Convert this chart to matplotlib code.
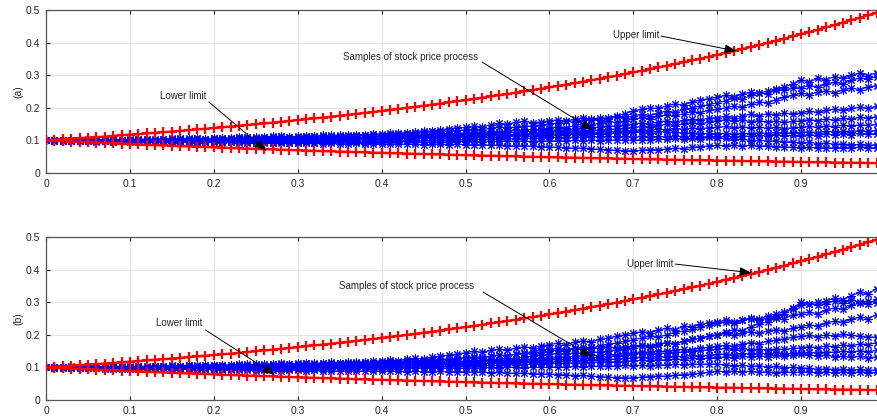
import numpy as np
import matplotlib
matplotlib.use("Agg")
import matplotlib.pyplot as plt

plt.rcParams['font.family'] = ['Liberation Sans', 'DejaVu Sans']

# all values are in thousandths (t = 0 .. 1, step 0.01)
upper_limit = [100.0, 101.6, 103.3, 105.0, 106.7, 108.4, 110.1, 111.9, 113.7, 115.6,
               117.5, 119.4, 121.3, 123.3, 125.3, 127.3, 129.4, 131.5, 133.6, 135.8,
               138.0, 140.2, 142.5, 144.8, 147.2, 149.5, 152.0, 154.4, 156.9, 159.5,
               162.1, 164.7, 167.4, 170.1, 172.8, 175.7, 178.5, 181.4, 184.3, 187.3,
               190.4, 193.5, 196.6, 199.8, 203.0, 206.3, 209.7, 213.1, 216.5, 220.0,
               223.6, 227.2, 230.9, 234.7, 238.5, 242.4, 246.3, 250.3, 254.3, 258.5,
               262.7, 266.9, 271.3, 275.7, 280.1, 284.7, 289.3, 294.0, 298.8, 303.6,
               308.5, 313.5, 318.6, 323.8, 329.0, 334.4, 339.8, 345.3, 350.9, 356.6,
               362.4, 368.3, 374.3, 380.3, 386.5, 392.8, 399.1, 405.6, 412.2, 418.9,
               425.7, 432.6, 439.6, 446.7, 454.0, 461.4, 468.8, 476.4, 484.2, 492.0,
               500.0]

lower_limit = [100.0, 98.8, 97.6, 96.5, 95.3, 94.2, 93.0, 91.9, 90.8, 89.7,
               88.7, 87.6, 86.5, 85.5, 84.5, 83.5, 82.5, 81.5, 80.5, 79.6,
               78.6, 77.7, 76.7, 75.8, 74.9, 74.0, 73.1, 72.3, 71.4, 70.5,
               69.7, 68.9, 68.0, 67.2, 66.4, 65.6, 64.8, 64.1, 63.3, 62.5,
               61.8, 61.0, 60.3, 59.6, 58.9, 58.2, 57.5, 56.8, 56.1, 55.4,
               54.8, 54.1, 53.5, 52.8, 52.2, 51.6, 51.0, 50.3, 49.7, 49.2,
               48.6, 48.0, 47.4, 46.8, 46.3, 45.7, 45.2, 44.6, 44.1, 43.6,
               43.1, 42.5, 42.0, 41.5, 41.0, 40.5, 40.1, 39.6, 39.1, 38.6,
               38.2, 37.7, 37.3, 36.8, 36.4, 35.9, 35.5, 35.1, 34.7, 34.2,
               33.8, 33.4, 33.0, 32.6, 32.2, 31.9, 31.5, 31.1, 30.7, 30.4,
               30.0]

# samples of the stock price process, panel (a)
paths_a = [
    [100, 101, 100, 102, 101, 103, 102, 104, 103, 102, 103,
     104, 103, 105, 104, 106, 105, 107, 106, 105, 107,
     108, 107, 109, 110, 108, 111, 110, 112, 111, 111,
     113, 112, 114, 116, 115, 117, 118, 116, 119, 120,
     122, 121, 124, 123, 126, 128, 127, 130, 131, 132,
     135, 133, 137, 140, 138, 142, 145, 143, 147, 150,
     153, 158, 156, 162, 166, 163, 170, 175, 182, 190,
     195, 200, 198, 206, 212, 208, 218, 224, 228, 232,
     238, 234, 242, 248, 244, 252, 258, 254, 260, 262,
     268, 264, 272, 278, 274, 284, 292, 288, 296, 300],
    [100, 99, 101, 100, 102, 101, 100, 102, 103, 101, 102,
     103, 104, 102, 105, 104, 106, 105, 107, 104, 106,
     108, 107, 110, 109, 111, 110, 113, 112, 110, 112,
     114, 113, 116, 114, 117, 115, 118, 116, 119, 118,
     121, 124, 122, 127, 130, 128, 133, 136, 138, 140,
     144, 141, 148, 152, 150, 155, 158, 154, 157, 160,
     163, 159, 165, 168, 164, 170, 167, 172, 170, 175,
     180, 176, 184, 190, 186, 195, 200, 205, 210, 215,
     222, 230, 226, 238, 246, 242, 255, 265, 272, 285,
     280, 290, 286, 296, 290, 300, 306, 298, 308, 312],
    [100, 101, 99, 100, 98, 99, 101, 100, 98, 100, 99,
     100, 99, 101, 102, 100, 103, 102, 104, 102, 103,
     105, 104, 106, 105, 107, 106, 108, 107, 109, 108,
     110, 109, 112, 111, 113, 112, 114, 116, 113, 115,
     117, 116, 119, 118, 120, 119, 122, 120, 123, 122,
     125, 123, 128, 126, 130, 133, 131, 135, 134, 138,
     142, 139, 145, 150, 147, 153, 158, 155, 160, 165,
     170, 166, 174, 178, 175, 182, 188, 185, 192, 195,
     200, 205, 202, 212, 218, 215, 225, 232, 238, 245,
     240, 248, 252, 246, 255, 260, 256, 264, 268, 270],
    [100, 99, 100, 102, 101, 100, 102, 101, 103, 102, 101,
     102, 100, 101, 99, 101, 100, 102, 99, 101, 100,
     101, 103, 102, 104, 103, 105, 102, 104, 105, 104,
     106, 105, 108, 107, 110, 108, 111, 109, 112, 112,
     114, 113, 116, 115, 117, 116, 119, 118, 121, 120,
     122, 121, 124, 123, 126, 125, 128, 127, 131, 130,
     133, 131, 136, 139, 137, 142, 145, 143, 148, 150,
     154, 151, 157, 160, 156, 162, 165, 163, 168, 170,
     174, 170, 176, 180, 175, 182, 178, 184, 181, 185,
     189, 186, 192, 196, 192, 198, 202, 198, 204, 205],
    [100, 101, 99, 100, 99, 98, 100, 99, 97, 98, 98,
     97, 99, 98, 96, 98, 97, 99, 98, 96, 97,
     98, 97, 99, 100, 98, 101, 100, 102, 101, 101,
     103, 102, 104, 103, 105, 104, 106, 105, 107, 106,
     108, 107, 109, 111, 109, 112, 110, 113, 111, 112,
     115, 113, 117, 116, 119, 118, 121, 120, 123, 125,
     128, 126, 130, 129, 133, 131, 135, 134, 138, 140,
     143, 140, 146, 149, 145, 151, 154, 150, 156, 160,
     163, 158, 162, 157, 161, 156, 160, 155, 158, 160,
     164, 160, 166, 162, 168, 165, 171, 168, 173, 175],
    [100, 99, 101, 100, 102, 101, 99, 100, 101, 99, 100,
     101, 100, 102, 101, 103, 102, 100, 102, 101, 102,
     103, 102, 104, 103, 105, 104, 106, 104, 105, 105,
     106, 105, 107, 106, 108, 107, 109, 107, 108, 108,
     110, 109, 112, 111, 114, 113, 116, 115, 117, 118,
     120, 117, 119, 116, 118, 115, 117, 119, 118, 120,
     122, 120, 124, 123, 126, 124, 128, 127, 129, 130,
     133, 130, 135, 132, 137, 134, 138, 136, 139, 140,
     143, 139, 142, 138, 141, 137, 140, 136, 139, 140,
     143, 140, 145, 142, 147, 144, 148, 146, 149, 150],
    [100, 101, 100, 99, 100, 98, 99, 100, 98, 99, 99,
     98, 99, 97, 98, 96, 97, 95, 97, 96, 96,
     97, 96, 98, 97, 99, 98, 97, 99, 98, 98,
     99, 100, 99, 101, 100, 102, 101, 103, 102, 104,
     105, 104, 106, 105, 107, 106, 108, 107, 109, 108,
     110, 109, 111, 110, 113, 112, 114, 113, 115, 115,
     117, 116, 119, 118, 121, 120, 123, 122, 124, 125,
     127, 124, 128, 125, 126, 122, 124, 121, 122, 120,
     122, 119, 123, 120, 124, 121, 125, 122, 124, 125,
     127, 124, 128, 126, 129, 127, 130, 128, 131, 130],
    [100, 99, 100, 98, 99, 98, 97, 98, 96, 97, 97,
     96, 97, 95, 96, 94, 96, 95, 94, 96, 95,
     96, 95, 97, 96, 95, 97, 96, 98, 96, 96,
     97, 96, 98, 97, 99, 97, 98, 96, 98, 98,
     99, 98, 100, 99, 101, 100, 102, 101, 103, 102,
     104, 103, 105, 104, 106, 105, 107, 106, 108, 108,
     110, 108, 111, 109, 112, 110, 113, 111, 112, 110,
     112, 109, 113, 110, 114, 111, 113, 110, 112, 110,
     112, 110, 114, 112, 116, 113, 117, 114, 116, 115,
     117, 115, 119, 117, 121, 118, 122, 119, 121, 120],
    [100, 99, 100, 98, 99, 97, 98, 99, 97, 98, 98,
     97, 98, 96, 97, 95, 96, 97, 95, 96, 96,
     95, 96, 94, 95, 93, 94, 92, 94, 93, 93,
     94, 93, 95, 94, 96, 94, 95, 93, 95, 95,
     96, 95, 97, 95, 96, 94, 96, 95, 97, 96,
     97, 96, 98, 97, 99, 97, 98, 96, 98, 98,
     99, 97, 100, 98, 101, 99, 102, 100, 101, 100,
     102, 100, 104, 103, 106, 104, 107, 105, 109, 108,
     106, 102, 104, 99, 101, 97, 99, 95, 96, 92,
     94, 90, 92, 88, 90, 86, 88, 85, 87, 85],
    [100, 99, 98, 99, 97, 98, 96, 97, 96, 97, 96,
     95, 96, 94, 95, 93, 94, 95, 93, 94, 94,
     93, 94, 92, 93, 91, 92, 93, 91, 92, 92,
     91, 92, 90, 91, 89, 90, 91, 89, 90, 90,
     89, 90, 88, 89, 87, 88, 89, 87, 88, 87,
     86, 87, 85, 86, 84, 83, 84, 82, 81, 80,
     79, 78, 76, 77, 74, 73, 71, 70, 68, 68,
     70, 72, 71, 74, 76, 75, 79, 81, 83, 85,
     84, 86, 83, 85, 82, 84, 81, 80, 79, 78,
     79, 77, 78, 76, 78, 77, 79, 78, 77, 78],
]

# samples of the stock price process, panel (b)
paths_b = [
    [100, 101, 100, 102, 101, 103, 102, 101, 103, 102, 102,
     103, 102, 104, 103, 105, 104, 106, 105, 107, 106,
     107, 106, 108, 107, 109, 108, 110, 109, 111, 110,
     112, 111, 113, 112, 114, 113, 115, 116, 115, 117,
     119, 118, 121, 120, 123, 124, 126, 125, 128, 130,
     133, 131, 135, 138, 136, 140, 143, 141, 146, 150,
     154, 151, 157, 162, 159, 166, 171, 175, 180, 185,
     190, 196, 193, 200, 207, 212, 218, 224, 230, 235,
     240, 236, 245, 252, 248, 258, 264, 270, 280, 290,
     296, 292, 304, 312, 308, 320, 330, 326, 342, 355],
    [100, 102, 101, 103, 102, 104, 103, 102, 104, 103, 103,
     104, 103, 105, 104, 106, 105, 107, 106, 108, 107,
     108, 107, 109, 110, 108, 111, 110, 112, 111, 112,
     113, 112, 114, 116, 115, 117, 118, 116, 119, 120,
     122, 121, 125, 128, 126, 131, 135, 138, 141, 145,
     149, 146, 152, 156, 153, 159, 163, 160, 166, 170,
     174, 170, 177, 182, 178, 186, 190, 195, 200, 205,
     210, 206, 214, 220, 216, 226, 224, 232, 236, 240,
     244, 238, 246, 250, 244, 252, 256, 250, 260, 265,
     270, 264, 276, 282, 278, 290, 298, 294, 310, 320],
    [100, 99, 101, 100, 102, 101, 100, 99, 101, 100, 101,
     102, 101, 103, 102, 104, 103, 102, 104, 103, 104,
     105, 104, 106, 105, 107, 106, 108, 107, 109, 109,
     110, 109, 111, 110, 112, 111, 113, 112, 114, 114,
     116, 115, 118, 117, 120, 122, 121, 124, 126, 128,
     131, 129, 134, 138, 135, 141, 145, 148, 152, 155,
     158, 154, 160, 156, 162, 158, 163, 160, 164, 165,
     169, 166, 172, 176, 172, 180, 186, 190, 195, 200,
     208, 216, 212, 224, 234, 240, 252, 264, 282, 300,
     294, 302, 296, 304, 298, 306, 300, 304, 298, 295],
    [100, 99, 100, 98, 99, 100, 98, 99, 100, 98, 99,
     100, 99, 101, 100, 102, 101, 103, 102, 101, 103,
     104, 103, 105, 104, 103, 105, 104, 106, 105, 106,
     107, 106, 108, 107, 109, 108, 110, 111, 110, 112,
     113, 112, 114, 113, 116, 115, 117, 116, 119, 120,
     123, 121, 126, 124, 129, 127, 132, 135, 137, 140,
     143, 141, 145, 143, 148, 146, 151, 154, 157, 160,
     165, 162, 170, 176, 172, 180, 186, 190, 196, 200,
     204, 198, 206, 210, 204, 212, 216, 212, 220, 225,
     230, 226, 236, 242, 238, 248, 254, 250, 262, 270],
    [100, 101, 100, 99, 101, 100, 102, 101, 99, 100, 100,
     99, 100, 101, 99, 100, 102, 101, 100, 102, 101,
     102, 101, 103, 102, 104, 103, 105, 104, 105, 105,
     106, 105, 107, 106, 108, 107, 109, 108, 110, 110,
     111, 110, 112, 111, 114, 113, 115, 116, 117, 118,
     120, 119, 122, 121, 124, 123, 126, 125, 128, 130,
     133, 131, 135, 134, 138, 136, 140, 139, 143, 145,
     148, 146, 150, 149, 153, 156, 154, 159, 162, 165,
     168, 165, 172, 176, 173, 180, 184, 188, 192, 195,
     198, 194, 200, 196, 202, 198, 196, 192, 194, 190],
    [100, 99, 100, 98, 99, 97, 98, 99, 97, 98, 98,
     97, 98, 99, 97, 98, 100, 99, 98, 100, 100,
     101, 100, 102, 101, 100, 102, 101, 103, 102, 103,
     104, 103, 105, 104, 106, 105, 107, 106, 108, 107,
     109, 108, 110, 109, 111, 112, 111, 113, 112, 114,
     116, 115, 118, 117, 119, 118, 121, 120, 123, 125,
     127, 125, 129, 128, 132, 130, 134, 136, 138, 140,
     143, 140, 145, 143, 148, 146, 150, 152, 154, 155,
     158, 154, 158, 154, 157, 153, 157, 155, 158, 160,
     164, 160, 166, 163, 169, 166, 172, 170, 176, 180],
    [100, 101, 99, 100, 99, 98, 100, 99, 98, 100, 99,
     98, 99, 97, 98, 96, 98, 97, 96, 98, 97,
     98, 97, 99, 98, 100, 99, 98, 100, 99, 100,
     101, 100, 102, 101, 103, 102, 104, 103, 105, 104,
     106, 105, 107, 106, 108, 107, 109, 108, 110, 110,
     112, 111, 113, 112, 115, 114, 116, 115, 117, 118,
     120, 119, 122, 121, 124, 123, 126, 125, 128, 130,
     132, 130, 134, 131, 135, 133, 137, 135, 138, 140,
     142, 139, 143, 140, 144, 141, 145, 142, 144, 145,
     147, 144, 148, 146, 150, 147, 151, 148, 152, 150],
    [100, 99, 100, 98, 99, 97, 98, 97, 96, 98, 97,
     96, 97, 95, 97, 96, 95, 97, 96, 95, 96,
     97, 96, 98, 97, 96, 98, 97, 99, 98, 98,
     99, 98, 100, 99, 101, 100, 99, 101, 100, 100,
     101, 100, 102, 101, 103, 102, 104, 103, 105, 105,
     106, 105, 107, 106, 109, 108, 110, 109, 111, 112,
     114, 112, 115, 113, 117, 116, 118, 117, 119, 120,
     122, 120, 124, 122, 126, 124, 128, 126, 129, 130,
     132, 129, 134, 131, 136, 133, 138, 135, 139, 140,
     138, 135, 137, 133, 135, 131, 134, 130, 132, 130],
    [100, 99, 100, 98, 99, 98, 97, 98, 97, 98, 98,
     97, 98, 96, 97, 95, 96, 95, 96, 94, 95,
     95, 94, 96, 95, 94, 95, 93, 95, 94, 94,
     95, 94, 96, 95, 97, 96, 95, 97, 96, 96,
     97, 96, 98, 97, 99, 98, 97, 99, 98, 98,
     99, 98, 100, 99, 101, 100, 99, 101, 100, 100,
     102, 100, 103, 102, 104, 103, 105, 104, 106, 105,
     107, 105, 108, 107, 110, 108, 111, 109, 111, 110,
     108, 105, 107, 103, 105, 101, 103, 99, 100, 98,
     97, 94, 96, 93, 95, 92, 94, 91, 92, 90],
    [100, 99, 98, 99, 97, 98, 97, 96, 97, 96, 96,
     95, 96, 94, 95, 93, 94, 95, 93, 94, 93,
     92, 93, 91, 92, 90, 91, 92, 90, 91, 91,
     90, 91, 89, 90, 88, 89, 90, 88, 89, 89,
     88, 89, 87, 88, 86, 87, 88, 86, 87, 86,
     85, 86, 84, 85, 83, 82, 83, 81, 80, 80,
     78, 77, 75, 76, 73, 72, 70, 69, 68, 68,
     70, 72, 74, 73, 76, 78, 80, 82, 85, 88,
     87, 89, 86, 88, 85, 87, 84, 86, 85, 85,
     86, 84, 85, 83, 85, 84, 86, 84, 85, 83],
]

# the tick at 1 sits outside the picture, so only 0 .. 0.9 are labelled
x_ticks = [0, 0.1, 0.2, 0.3, 0.4, 0.5, 0.6, 0.7, 0.8, 0.9]
x_ticklabels = ['0', '0.1', '0.2', '0.3', '0.4', '0.5', '0.6', '0.7', '0.8', '0.9']
y_ticks = [0, 0.1, 0.2, 0.3, 0.4, 0.5]
y_ticklabels = ['0', '0.1', '0.2', '0.3', '0.4', '0.5']

for p in paths_a + paths_b:
    assert len(p) == 101, len(p)

fig = plt.figure(figsize=(8.77, 4.16), dpi=100)
# the right edge of both axes falls just outside the picture, as in the original
ax_a = fig.add_axes([46 / 877, 1 - 173 / 416, 839 / 877, 163 / 416])
ax_b = fig.add_axes([46 / 877, 1 - 400 / 416, 839 / 877, 163 / 416])

ink = '#262626'


def draw_panel(ax, paths, label, notes):
    for p in paths:
        y = np.array(p) / 1000
        t = np.linspace(0, 1, len(y))
        ax.plot(t, y, color='#0000ff', lw=0.8, marker=(8, 2, 0), ms=6, mew=0.75, zorder=2)
    t = np.linspace(0, 1, len(upper_limit))
    for lim in (upper_limit, lower_limit):
        ax.plot(t, np.array(lim) / 1000, color='#ff0000', lw=1.6, marker='+',
                ms=7, mew=1.6, zorder=3)

    ax.set_xlim(0, 1)
    ax.set_ylim(0, 0.5)
    ax.set_xticks(x_ticks)
    ax.set_xticklabels(x_ticklabels)
    ax.set_yticks(y_ticks)
    ax.set_yticklabels(y_ticklabels)
    ax.grid(True, color='#e3e3e3', lw=0.8)
    ax.set_axisbelow(True)
    ax.tick_params(direction='in', top=True, right=True, length=3, width=0.8,
                   colors=ink, labelsize=7.5, pad=4)
    for s in ax.spines.values():
        s.set_color('#555555')
        s.set_linewidth(0.9)
    ax.set_ylabel(label, fontsize=7.5, color=ink, labelpad=2)

    for text, txy, start, end in notes:
        ax.text(txy[0], txy[1], text, ha='center', va='center', fontsize=7, color=ink, zorder=5)
        ax.annotate('', xy=end, xytext=start, zorder=5,
                    arrowprops=dict(arrowstyle='-|>,head_length=0.6,head_width=0.22',
                                    color='black', lw=0.7, mutation_scale=12,
                                    shrinkA=0, shrinkB=0))


draw_panel(ax_a, paths_a, '(a)', [
    ('Lower limit', (0.163, 0.236), (0.194, 0.218), (0.263, 0.068)),
    ('Samples of stock price process', (0.434, 0.356), (0.52, 0.34), (0.652, 0.132)),
    ('Upper limit', (0.703, 0.423), (0.733, 0.42), (0.823, 0.374)),
])
draw_panel(ax_b, paths_b, '(b)', [
    ('Lower limit', (0.159, 0.236), (0.19, 0.215), (0.273, 0.077)),
    ('Samples of stock price process', (0.43, 0.35), (0.521, 0.331), (0.651, 0.132)),
    ('Upper limit', (0.72, 0.417), (0.75, 0.417), (0.841, 0.39)),
])

fig.savefig('out.png', dpi=100)
